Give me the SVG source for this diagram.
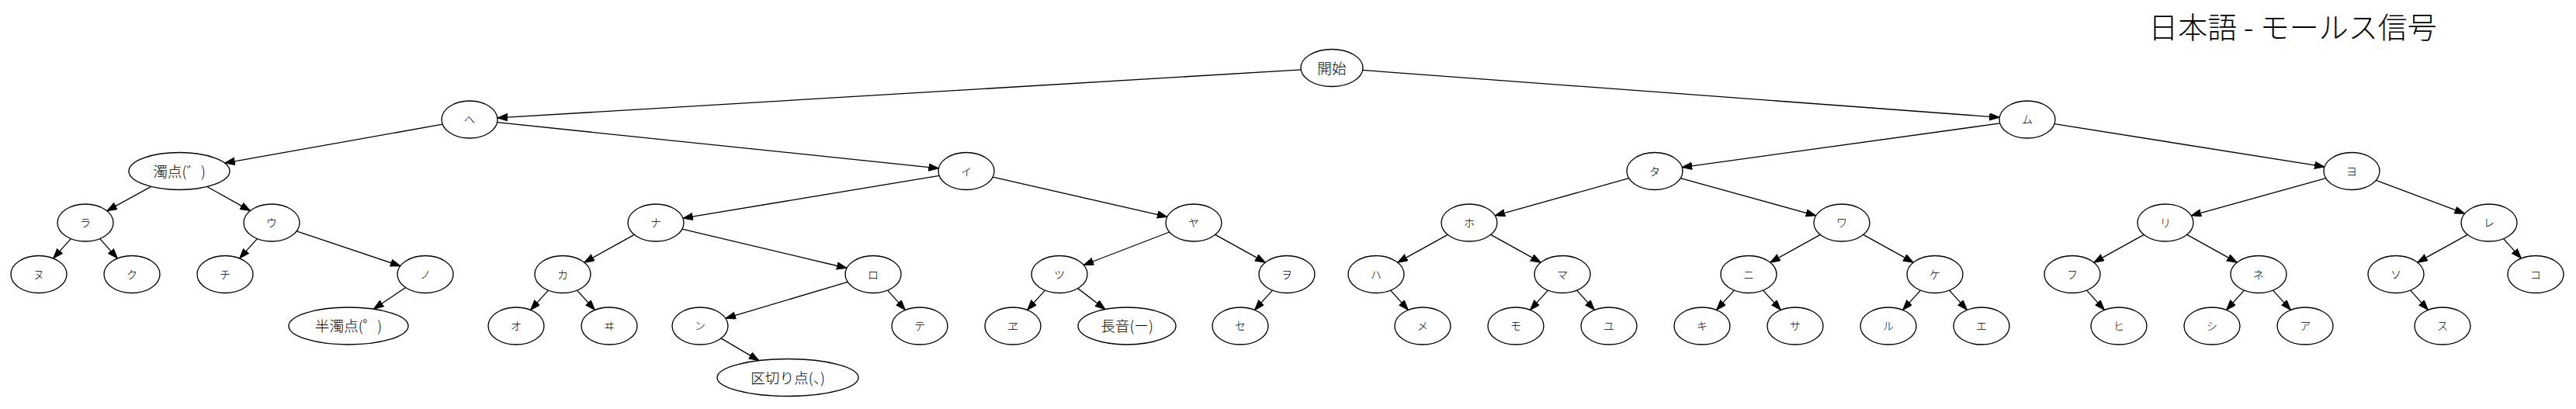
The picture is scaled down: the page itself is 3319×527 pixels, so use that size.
<svg xmlns="http://www.w3.org/2000/svg" width="3319" height="527" viewBox="0 0 3319 527">
<style>
.node ellipse{fill:#fff;stroke:#000;stroke-width:1.33}
.node text{font-family:"Noto Sans CJK JP","Noto Sans",sans-serif;font-weight:300;font-size:14px;text-anchor:middle;fill:#000}
.node text.big{font-size:18.67px}
.edges line{stroke:#000;stroke-width:1.33;fill:none;marker-end:url(#arr)}
.title{font-family:"Noto Sans CJK JP","Noto Sans",sans-serif;font-weight:300;font-size:38px;text-anchor:middle;fill:#000}
</style>
<defs>
<marker id="arr" markerUnits="userSpaceOnUse" markerWidth="14" markerHeight="10" refX="13" refY="4.7" orient="auto">
<path d="M0,0 L13,4.7 L0,9.4 z" fill="#000" stroke="#000" stroke-width="1"/>
</marker>
</defs>
<rect x="0" y="0" width="3319" height="527" fill="#fff"/>
<text class="title" x="2954" y="49">日本語 - モールス信号</text>
<g class="edges">
<line x1="1676.2" y1="89.9" x2="640.9" y2="151.9"/>
<line x1="1755.7" y1="90.4" x2="2576.2" y2="151.3"/>
<line x1="570.2" y1="160.2" x2="289.6" y2="210.1"/>
<line x1="640.6" y1="157.7" x2="1209.4" y2="216.8"/>
<line x1="2576.8" y1="158.9" x2="2167.2" y2="215.6"/>
<line x1="2647.0" y1="159.6" x2="2995.0" y2="214.9"/>
<line x1="194.7" y1="240.4" x2="137.8" y2="271.7"/>
<line x1="266.8" y1="240.5" x2="322.4" y2="271.6"/>
<line x1="1210.1" y1="226.3" x2="879.9" y2="281.2"/>
<line x1="1279.1" y1="228.2" x2="1503.9" y2="279.3"/>
<line x1="2098.8" y1="229.7" x2="1926.2" y2="277.8"/>
<line x1="2165.3" y1="229.7" x2="2339.7" y2="277.8"/>
<line x1="2996.8" y1="229.7" x2="2823.2" y2="277.8"/>
<line x1="3061.4" y1="232.3" x2="3175.6" y2="275.2"/>
<line x1="91.4" y1="307.6" x2="68.6" y2="332.9"/>
<line x1="128.6" y1="307.6" x2="151.4" y2="332.9"/>
<line x1="331.4" y1="307.6" x2="308.6" y2="332.9"/>
<line x1="382.2" y1="297.8" x2="515.9" y2="342.7"/>
<line x1="817.3" y1="302.3" x2="752.7" y2="338.2"/>
<line x1="878.9" y1="295.1" x2="1091.1" y2="345.5"/>
<line x1="1506.8" y1="299.0" x2="1396.2" y2="341.5"/>
<line x1="1565.7" y1="302.3" x2="1630.3" y2="338.2"/>
<line x1="1865.3" y1="302.3" x2="1800.7" y2="338.2"/>
<line x1="1920.7" y1="302.3" x2="1985.3" y2="338.2"/>
<line x1="2345.3" y1="302.3" x2="2280.7" y2="338.2"/>
<line x1="2400.7" y1="302.3" x2="2465.3" y2="338.2"/>
<line x1="2762.3" y1="302.3" x2="2697.7" y2="338.2"/>
<line x1="2817.7" y1="302.3" x2="2882.3" y2="338.2"/>
<line x1="3179.3" y1="302.3" x2="3114.7" y2="338.2"/>
<line x1="3225.6" y1="307.6" x2="3248.4" y2="332.9"/>
<line x1="522.6" y1="370.5" x2="481.4" y2="398.2"/>
<line x1="706.4" y1="374.1" x2="683.6" y2="399.4"/>
<line x1="743.6" y1="374.1" x2="766.4" y2="399.4"/>
<line x1="1092.1" y1="363.3" x2="934.9" y2="410.2"/>
<line x1="1143.6" y1="374.1" x2="1166.4" y2="399.4"/>
<line x1="1346.4" y1="374.1" x2="1323.6" y2="399.4"/>
<line x1="1388.7" y1="371.6" x2="1423.9" y2="398.5"/>
<line x1="1639.4" y1="374.1" x2="1616.6" y2="399.4"/>
<line x1="1791.6" y1="374.1" x2="1814.4" y2="399.4"/>
<line x1="1994.4" y1="374.1" x2="1971.6" y2="399.4"/>
<line x1="2031.6" y1="374.1" x2="2054.4" y2="399.4"/>
<line x1="2234.4" y1="374.1" x2="2211.6" y2="399.4"/>
<line x1="2271.6" y1="374.1" x2="2294.4" y2="399.4"/>
<line x1="2474.4" y1="374.1" x2="2451.6" y2="399.4"/>
<line x1="2511.6" y1="374.1" x2="2534.4" y2="399.4"/>
<line x1="2688.6" y1="374.1" x2="2711.4" y2="399.4"/>
<line x1="2891.4" y1="374.1" x2="2868.6" y2="399.4"/>
<line x1="2928.6" y1="374.1" x2="2951.4" y2="399.4"/>
<line x1="3105.6" y1="374.1" x2="3128.4" y2="399.4"/>
<line x1="929.0" y1="435.9" x2="977.8" y2="464.6"/>
</g>
<g id="n_kaishi" class="node"><ellipse cx="1716" cy="87.5" rx="40" ry="24"/><text class="big" x="1716" y="94.5">開始</text></g>
<g id="n_he" class="node"><ellipse cx="605" cy="154" rx="36" ry="24"/><text x="605" y="159">ヘ</text></g>
<g id="n_mu" class="node"><ellipse cx="2612" cy="154" rx="36" ry="24"/><text x="2612" y="159">ム</text></g>
<g id="n_dakuten" class="node"><ellipse cx="231" cy="220.5" rx="65" ry="24"/><text class="big" x="231" y="227.5">濁点(゛)</text></g>
<g id="n_i" class="node"><ellipse cx="1245" cy="220.5" rx="36" ry="24"/><text x="1245" y="225.5">イ</text></g>
<g id="n_ta" class="node"><ellipse cx="2132" cy="220.5" rx="36" ry="24"/><text x="2132" y="225.5">タ</text></g>
<g id="n_yo" class="node"><ellipse cx="3030" cy="220.5" rx="36" ry="24"/><text x="3030" y="225.5">ヨ</text></g>
<g id="n_ra" class="node"><ellipse cx="110" cy="287" rx="36" ry="24"/><text x="110" y="292">ラ</text></g>
<g id="n_u" class="node"><ellipse cx="350" cy="287" rx="36" ry="24"/><text x="350" y="292">ウ</text></g>
<g id="n_na" class="node"><ellipse cx="845" cy="287" rx="36" ry="24"/><text x="845" y="292">ナ</text></g>
<g id="n_ya" class="node"><ellipse cx="1538" cy="287" rx="36" ry="24"/><text x="1538" y="292">ヤ</text></g>
<g id="n_ho" class="node"><ellipse cx="1893" cy="287" rx="36" ry="24"/><text x="1893" y="292">ホ</text></g>
<g id="n_wa" class="node"><ellipse cx="2373" cy="287" rx="36" ry="24"/><text x="2373" y="292">ワ</text></g>
<g id="n_ri" class="node"><ellipse cx="2790" cy="287" rx="36" ry="24"/><text x="2790" y="292">リ</text></g>
<g id="n_re" class="node"><ellipse cx="3207" cy="287" rx="36" ry="24"/><text x="3207" y="292">レ</text></g>
<g id="n_nu" class="node"><ellipse cx="50" cy="353.5" rx="36" ry="24"/><text x="50" y="358.5">ヌ</text></g>
<g id="n_ku" class="node"><ellipse cx="170" cy="353.5" rx="36" ry="24"/><text x="170" y="358.5">ク</text></g>
<g id="n_chi" class="node"><ellipse cx="290" cy="353.5" rx="36" ry="24"/><text x="290" y="358.5">チ</text></g>
<g id="n_no" class="node"><ellipse cx="548" cy="353.5" rx="36" ry="24"/><text x="548" y="358.5">ノ</text></g>
<g id="n_ka" class="node"><ellipse cx="725" cy="353.5" rx="36" ry="24"/><text x="725" y="358.5">カ</text></g>
<g id="n_ro" class="node"><ellipse cx="1125" cy="353.5" rx="36" ry="24"/><text x="1125" y="358.5">ロ</text></g>
<g id="n_tsu" class="node"><ellipse cx="1365" cy="353.5" rx="36" ry="24"/><text x="1365" y="358.5">ツ</text></g>
<g id="n_wo" class="node"><ellipse cx="1658" cy="353.5" rx="36" ry="24"/><text x="1658" y="358.5">ヲ</text></g>
<g id="n_ha" class="node"><ellipse cx="1773" cy="353.5" rx="36" ry="24"/><text x="1773" y="358.5">ハ</text></g>
<g id="n_ma" class="node"><ellipse cx="2013" cy="353.5" rx="36" ry="24"/><text x="2013" y="358.5">マ</text></g>
<g id="n_ni" class="node"><ellipse cx="2253" cy="353.5" rx="36" ry="24"/><text x="2253" y="358.5">ニ</text></g>
<g id="n_ke" class="node"><ellipse cx="2493" cy="353.5" rx="36" ry="24"/><text x="2493" y="358.5">ケ</text></g>
<g id="n_fu" class="node"><ellipse cx="2670" cy="353.5" rx="36" ry="24"/><text x="2670" y="358.5">フ</text></g>
<g id="n_ne" class="node"><ellipse cx="2910" cy="353.5" rx="36" ry="24"/><text x="2910" y="358.5">ネ</text></g>
<g id="n_so" class="node"><ellipse cx="3087" cy="353.5" rx="36" ry="24"/><text x="3087" y="358.5">ソ</text></g>
<g id="n_ko" class="node"><ellipse cx="3267" cy="353.5" rx="36" ry="24"/><text x="3267" y="358.5">コ</text></g>
<g id="n_handakuten" class="node"><ellipse cx="449" cy="420" rx="77" ry="24"/><text class="big" x="449" y="427">半濁点(゜)</text></g>
<g id="n_o" class="node"><ellipse cx="665" cy="420" rx="36" ry="24"/><text x="665" y="425">オ</text></g>
<g id="n_wi" class="node"><ellipse cx="785" cy="420" rx="36" ry="24"/><text x="785" y="425">ヰ</text></g>
<g id="n_n" class="node"><ellipse cx="902" cy="420" rx="36" ry="24"/><text x="902" y="425">ン</text></g>
<g id="n_te" class="node"><ellipse cx="1185" cy="420" rx="36" ry="24"/><text x="1185" y="425">テ</text></g>
<g id="n_we" class="node"><ellipse cx="1305" cy="420" rx="36" ry="24"/><text x="1305" y="425">ヱ</text></g>
<g id="n_chouon" class="node"><ellipse cx="1452" cy="420" rx="63" ry="24"/><text class="big" x="1452" y="427">長音(ー)</text></g>
<g id="n_se" class="node"><ellipse cx="1598" cy="420" rx="36" ry="24"/><text x="1598" y="425">セ</text></g>
<g id="n_me" class="node"><ellipse cx="1833" cy="420" rx="36" ry="24"/><text x="1833" y="425">メ</text></g>
<g id="n_mo" class="node"><ellipse cx="1953" cy="420" rx="36" ry="24"/><text x="1953" y="425">モ</text></g>
<g id="n_yu" class="node"><ellipse cx="2073" cy="420" rx="36" ry="24"/><text x="2073" y="425">ユ</text></g>
<g id="n_ki" class="node"><ellipse cx="2193" cy="420" rx="36" ry="24"/><text x="2193" y="425">キ</text></g>
<g id="n_sa" class="node"><ellipse cx="2313" cy="420" rx="36" ry="24"/><text x="2313" y="425">サ</text></g>
<g id="n_ru" class="node"><ellipse cx="2433" cy="420" rx="36" ry="24"/><text x="2433" y="425">ル</text></g>
<g id="n_e" class="node"><ellipse cx="2553" cy="420" rx="36" ry="24"/><text x="2553" y="425">エ</text></g>
<g id="n_hi" class="node"><ellipse cx="2730" cy="420" rx="36" ry="24"/><text x="2730" y="425">ヒ</text></g>
<g id="n_shi" class="node"><ellipse cx="2850" cy="420" rx="36" ry="24"/><text x="2850" y="425">シ</text></g>
<g id="n_a" class="node"><ellipse cx="2970" cy="420" rx="36" ry="24"/><text x="2970" y="425">ア</text></g>
<g id="n_su" class="node"><ellipse cx="3147" cy="420" rx="36" ry="24"/><text x="3147" y="425">ス</text></g>
<g id="n_kugiri" class="node"><ellipse cx="1015" cy="486.5" rx="91" ry="24"/><text class="big" x="1015" y="493.5">区切り点(、)</text></g>
</svg>
